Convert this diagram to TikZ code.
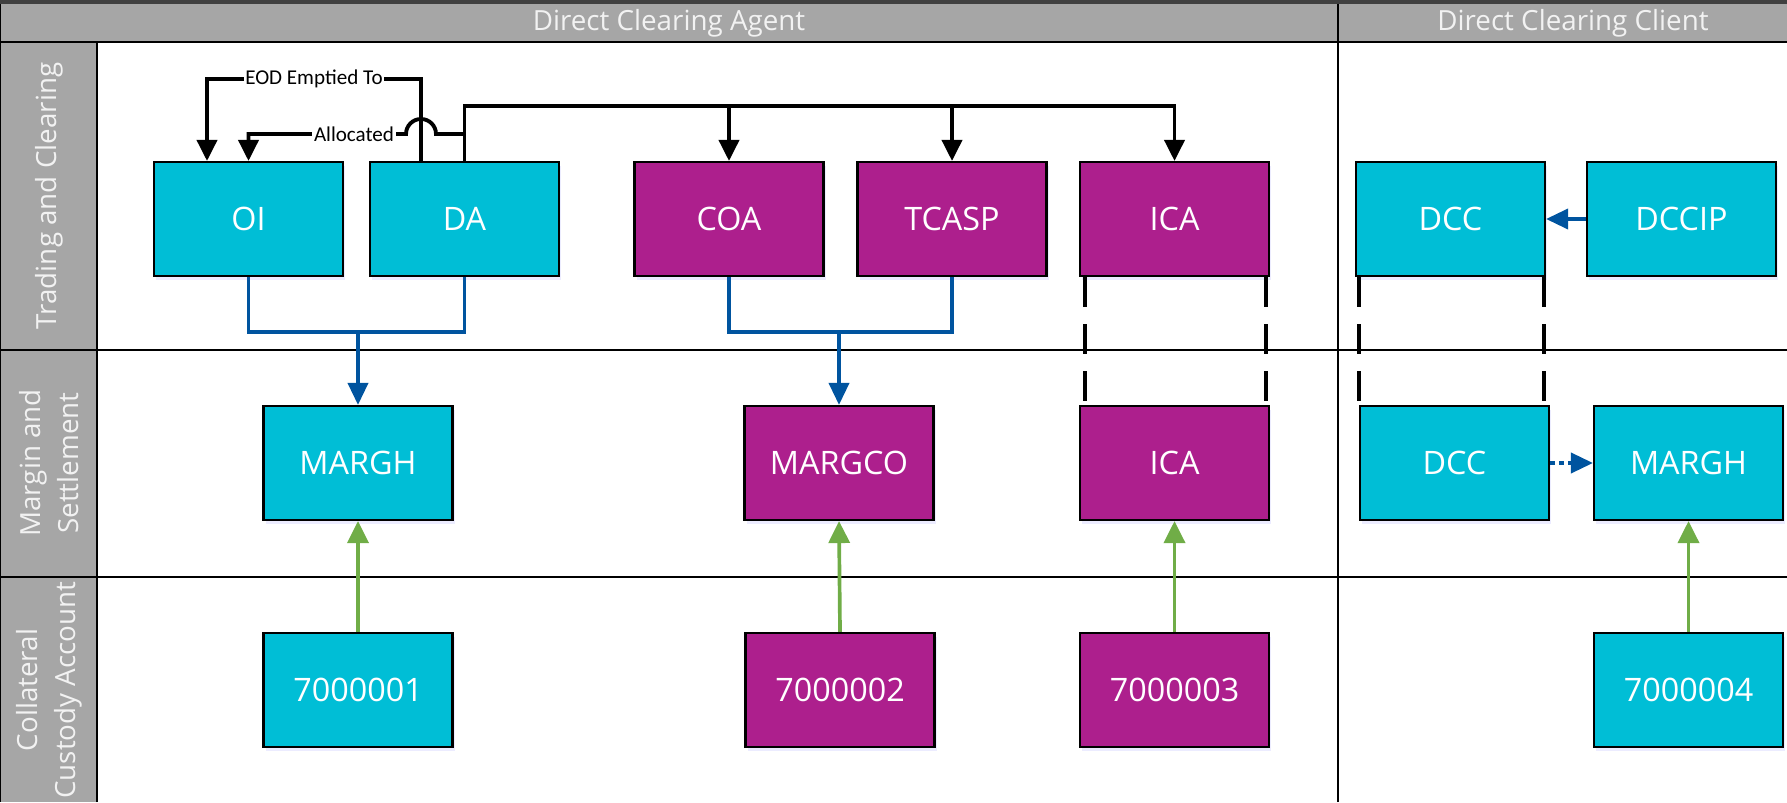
\documentclass[tikz,border=0pt]{standalone}
\usepackage{fontspec}
\setmainfont{Open Sans}
\newfontfamily\labelfont{Carlito}
\usetikzlibrary{arrows.meta,shadows}

\definecolor{acccyan}{RGB}{0,190,214}
\definecolor{accpurple}{RGB}{173,31,141}
\definecolor{linkblue}{RGB}{0,84,159}
\definecolor{linkgreen}{RGB}{112,173,71}
\definecolor{lanegray}{RGB}{166,166,166}

\tikzset{
  acc/.style={draw=black, line width=0.6pt, minimum width=1.89cm, minimum height=1.14cm,
    inner sep=0pt, text=white, font=\fontsize{9.2}{11}\selectfont,
    drop shadow={shadow xshift=0.02cm, shadow yshift=-0.04cm, fill=blue!25, opacity=0.3}},
  cyanacc/.style={acc, fill=acccyan},
  purpleacc/.style={acc, fill=accpurple},
  flowline/.style={line width=1.1pt, -{Triangle[length=0.21cm,width=0.2cm]}},
  bluelink/.style={linkblue, line width=1.05pt},
  bluehead/.style={-{Triangle[length=0.22cm,width=0.2cm]}},
  greenlink/.style={linkgreen, line width=1.05pt, -{Triangle[length=0.22cm,width=0.21cm]}},
  samelink/.style={line width=1.1pt, dash pattern=on 0.3cm off 0.17cm},
  tag/.style={fill=white, inner sep=0.5pt, font=\labelfont\fontsize{6}{7}\selectfont},
  lanetext/.style={text=white!95!black, font=\fontsize{7.9}{10.8}\selectfont, align=center}
}

\begin{document}
\begin{tikzpicture}
    \useasboundingbox (0,0) rectangle (17.87,8.02);
    % lanes
    \fill[lanegray] (0,7.60) rectangle (17.87,7.98);
    \fill[black!75] (0,7.98) rectangle (17.87,8.02);
    \fill[lanegray] (0,0) rectangle (0.97,7.60);
    \draw[line width=0.6pt] (0,7.60) -- (17.87,7.60);
    \draw[line width=0.6pt] (0,4.52) -- (17.87,4.52);
    \draw[line width=0.6pt] (0,2.25) -- (17.87,2.25);
    \draw[line width=0.6pt] (0.97,0) -- (0.97,7.60);
    \draw[line width=0.6pt] (13.38,0) -- (13.38,7.98);
    \draw[line width=0.6pt] (0,0) -- (0,7.98);
    \node[lanetext] (agent) at (6.69,7.79) {Direct Clearing Agent};
    \node[lanetext] (client) at (15.73,7.79) {Direct Clearing Client};
    \node[lanetext, rotate=90] (trading) at (0.49,6.06) {Trading and Clearing};
    \node[lanetext, rotate=90] (margin) at (0.49,3.39) {Margin and\\Settlement};
    \node[lanetext, rotate=90] (custody) at (0.49,1.12) {Collateral\\Custody Account};

    % accounts
    \node[cyanacc] (oi) at (2.485,5.83) {OI};
    \node[cyanacc] (da) at (4.645,5.83) {DA};
    \node[purpleacc] (coa) at (7.29,5.83) {COA};
    \node[purpleacc] (tcasp) at (9.52,5.83) {TCASP};
    \node[purpleacc] (ica) at (11.745,5.83) {ICA};
    \node[cyanacc] (dcc) at (14.505,5.83) {DCC};
    \node[cyanacc] (dccip) at (16.815,5.83) {DCCIP};
    \node[cyanacc] (margh) at (3.58,3.39) {MARGH};
    \node[purpleacc] (margco) at (8.39,3.39) {MARGCO};
    \node[purpleacc] (icams) at (11.745,3.39) {ICA};
    \node[cyanacc] (dccms) at (14.545,3.39) {DCC};
    \node[cyanacc] (marghc) at (16.885,3.39) {MARGH};
    \node[cyanacc] (cca1) at (3.58,1.12) {7000001};
    \node[purpleacc] (cca2) at (8.40,1.12) {7000002};
    \node[purpleacc] (cca3) at (11.745,1.12) {7000003};
    \node[cyanacc] (cca4) at (16.885,1.12) {7000004};

    % black flows
    \coordinate (eodbus) at (0,7.23);
    \coordinate (topbus) at (0,6.96);
    \coordinate (allocbus) at (0,6.68);
    \coordinate (eodup) at ([xshift=-0.435cm]da.north);
    \coordinate (eoddown) at ([xshift=-0.415cm]oi.north);
    \draw[flowline] (eodup) |- (eoddown |- eodbus) node[tag, pos=0.75] {EOD Emptied To} -- (eoddown);
    \draw[flowline] (da.north) |- (ica.north |- topbus) -- (ica.north);
    \draw[flowline] (coa.north |- topbus) -- (coa.north);
    \draw[flowline] (tcasp.north |- topbus) -- (tcasp.north);
    \draw[flowline] (da.north |- allocbus) -- ([xshift=0.15cm]eodup |- allocbus)
        arc[start angle=0, end angle=180, radius=0.15cm]
        -- (oi.north |- allocbus) node[tag, pos=0.33] {Allocated} -- (oi.north);

    % blue flows
    \coordinate (dajoin) at (3.58,4.70);
    \coordinate (cojoin) at (8.39,4.70);
    \draw[bluelink] (oi.south) |- (dajoin) -| (da.south);
    \draw[bluelink, bluehead] (dajoin) -- (margh.north);
    \draw[bluelink] (coa.south) |- (cojoin) -| (tcasp.south);
    \draw[bluelink, bluehead] (cojoin) -- (margco.north);
    \draw[bluelink, bluehead] (dccip.west) -- (dcc.east);
    \draw[bluelink, bluehead, dash pattern=on 0.05cm off 0.04cm] (dccms.east) -- (marghc.west);

    % same account
    \draw[samelink] ([xshift=0.06cm]ica.south west) -- ([xshift=0.06cm]icams.north west);
    \draw[samelink] ([xshift=-0.04cm]ica.south east) -- ([xshift=-0.04cm]icams.north east);
    \draw[samelink] ([xshift=0.04cm]dcc.south west) -- ([xshift=0.04cm]dcc.south west |- dccms.north);
    \draw[samelink] ([xshift=-0.02cm]dcc.south east) -- ([xshift=-0.02cm]dcc.south east |- dccms.north);

    % collateral
    \foreach \from/\to in {cca1/margh, cca2/margco, cca3/icams, cca4/marghc}
        \draw[greenlink] (\from.north) -- (\to.south);
\end{tikzpicture}
\end{document}
